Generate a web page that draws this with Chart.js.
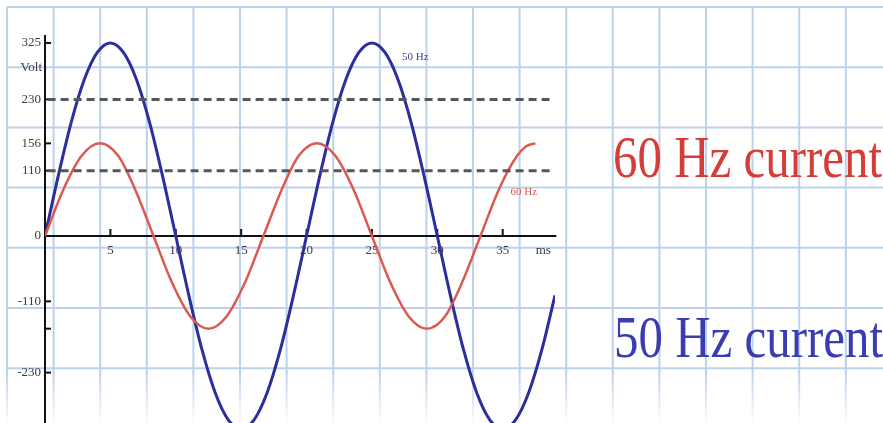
<!DOCTYPE html>
<html>
<head>
<meta charset="utf-8">
<script src="https://cdn.jsdelivr.net/npm/chart.js@4.4.0/dist/chart.umd.min.js"></script>
<style>
  html, body { margin: 0; padding: 0; background: #fff; }
  #wrap { width: 883px; height: 423px; position: relative; }
</style>
</head>
<body>
<div id="wrap"><canvas id="grafico"></canvas></div>
<script>
// 50 Hz wave (ms, volt)
const tempo50 = [0,1,2,3,4,5,6,7,8,9,10,11,12,13,14,15,16,17,18,19,20,21,22,23,24,25,26,27,28,29,30,31,32,33,34,35,36,37,38,39];
const volt50 = [0,100,191,263,309,325,309,263,191,100,0,-100,-191,-263,-309,-325,-309,-263,-191,-100,0,100,191,263,309,325,309,263,191,100,0,-100,-191,-263,-309,-325,-309,-263,-191,-100];

// 60 Hz wave (ms, volt)
const tempo60 = [0,1.4,2.8,4.2,5.6,6.9,8.3,9.7,11.1,12.5,13.9,15.3,16.7,18.1,19.4,20.8,22.2,23.6,25,26.4,27.8,29.2,30.6,31.9,33.3,34.7,36.1,36.8,37.5];
const volt60 = [0,78,135,156,135,78,0,-78,-135,-156,-135,-78,0,78,135,156,135,78,0,-78,-135,-156,-135,-78,0,78,135,151,156];

// dashed reference levels
const niveis = [230, 110];
const nivelInicio = 0.2;
const nivelFim = 38.9;

// ticks
const yTicks = [325, 230, 156, 110, 0, -110, -156, -230, -325];
const yLabels = ['325', '230', '156', '110', '0', '-110', '', '-230', '-325'];
const xTicks = [5, 10, 15, 20, 25, 30, 35];
const xLabels = ['5', '10', '15', '20', '25', '30', '35'];

const AZUL = '#2b2e9c';
const VERMELHO = '#db5a4f';
const SERIF = '"Liberation Serif", "DejaVu Serif", serif';

function pontos(xs, ys) {
    return xs.map((x, i) => ({ x, y: ys[i] }));
}

const datasets = [];
niveis.forEach(v => {
    datasets.push({
        data: [{ x: nivelInicio, y: v }, { x: nivelFim, y: v }],
        borderColor: '#575757',
        borderWidth: 3,
        borderDash: [8, 5],
        pointRadius: 0,
        tension: 0
    });
});
datasets.push({
    data: pontos(tempo60, volt60),
    borderColor: VERMELHO,
    borderWidth: 2.5,
    pointRadius: 0,
    cubicInterpolationMode: 'monotone'
});
datasets.push({
    data: pontos(tempo50, volt50),
    borderColor: AZUL,
    borderWidth: 3,
    pointRadius: 0,
    cubicInterpolationMode: 'monotone'
});

// grid paper + axes + texts
const papel = {
    id: 'papel',
    beforeDraw(chart) {
        const ctx = chart.ctx;
        const W = chart.width, H = chart.height;
        ctx.save();
        ctx.fillStyle = '#ffffff';
        ctx.fillRect(0, 0, W, H);
        ctx.strokeStyle = '#bcd2ea';
        ctx.lineWidth = 2;
        for (let x = 7; x < W; x += 46.6) {
            ctx.beginPath(); ctx.moveTo(x, 7); ctx.lineTo(x, H); ctx.stroke();
        }
        for (let y = 7; y < H; y += 60.2) {
            ctx.beginPath(); ctx.moveTo(7, y); ctx.lineTo(W, y); ctx.stroke();
        }
        const g = ctx.createLinearGradient(0, 372, 0, H);
        g.addColorStop(0, 'rgba(255,255,255,0)');
        g.addColorStop(1, 'rgba(255,255,255,0.95)');
        ctx.fillStyle = g;
        ctx.fillRect(0, 372, W, H - 372);
        ctx.restore();
    },
    beforeDatasetsDraw(chart) {
        const ctx = chart.ctx;
        const sx = chart.scales.x, sy = chart.scales.y;
        const x0 = sx.getPixelForValue(0);
        const y0 = sy.getPixelForValue(0);
        ctx.save();
        // axes
        ctx.strokeStyle = '#111';
        ctx.lineWidth = 2;
        ctx.beginPath();
        ctx.moveTo(x0, chart.chartArea.top);
        ctx.lineTo(x0, chart.height);
        ctx.moveTo(x0, y0);
        ctx.lineTo(sx.getPixelForValue(39.1), y0);
        ctx.stroke();

        ctx.fillStyle = '#3c3c3c';
        ctx.font = '13px ' + SERIF;
        ctx.textBaseline = 'middle';
        ctx.textAlign = 'right';
        yTicks.forEach((v, i) => {
            const y = sy.getPixelForValue(v);
            ctx.beginPath();
            ctx.moveTo(x0, y);
            ctx.lineTo(x0 + 6, y);
            ctx.stroke();
            if (yLabels[i]) ctx.fillText(yLabels[i], x0 - 4, y);
        });
        ctx.fillText('Volt', x0 - 3, sy.getPixelForValue(284));

        ctx.textAlign = 'center';
        xTicks.forEach((v, i) => {
            const x = sx.getPixelForValue(v);
            ctx.beginPath();
            ctx.moveTo(x, y0);
            ctx.lineTo(x, y0 - 7);
            ctx.stroke();
            ctx.fillText(xLabels[i], x, y0 + 15);
        });
        ctx.fillText('ms', sx.getPixelForValue(38.1), y0 + 15);

        // small curve labels
        ctx.font = '11px ' + SERIF;
        ctx.textAlign = 'left';
        ctx.fillStyle = '#3f4490';
        ctx.fillText('50 Hz', sx.getPixelForValue(27.3), sy.getPixelForValue(301));
        ctx.fillStyle = VERMELHO;
        ctx.fillText('60 Hz', sx.getPixelForValue(35.6), sy.getPixelForValue(74));

        // big captions
        const legenda = (txt, cor, x, base) => {
            ctx.font = '60px ' + SERIF;
            const w = ctx.measureText(txt).width;
            ctx.save();
            ctx.translate(x, base);
            ctx.scale(269 / w, 1);
            ctx.textAlign = 'left';
            ctx.textBaseline = 'alphabetic';
            ctx.fillStyle = cor;
            ctx.fillText(txt, 0, 0);
            ctx.restore();
        };
        legenda('60 Hz current', '#d63d36', 613, 177);
        legenda('50 Hz current', '#3a3db2', 614, 357);
        ctx.restore();
    }
};

const ctx = document.getElementById('grafico').getContext('2d');
new Chart(ctx, {
    type: 'line',
    data: { datasets },
    options: {
        responsive: true,
        maintainAspectRatio: false,
        animation: false,
        layout: { padding: { left: 45, right: 328, top: 35, bottom: 0 } },
        plugins: { legend: { display: false }, tooltip: { enabled: false } },
        scales: {
            x: { type: 'linear', min: 0, max: 39, display: false },
            y: { type: 'linear', min: -314.8, max: 338.4, display: false }
        }
    },
    plugins: [papel]
});
</script>
</body>
</html>
